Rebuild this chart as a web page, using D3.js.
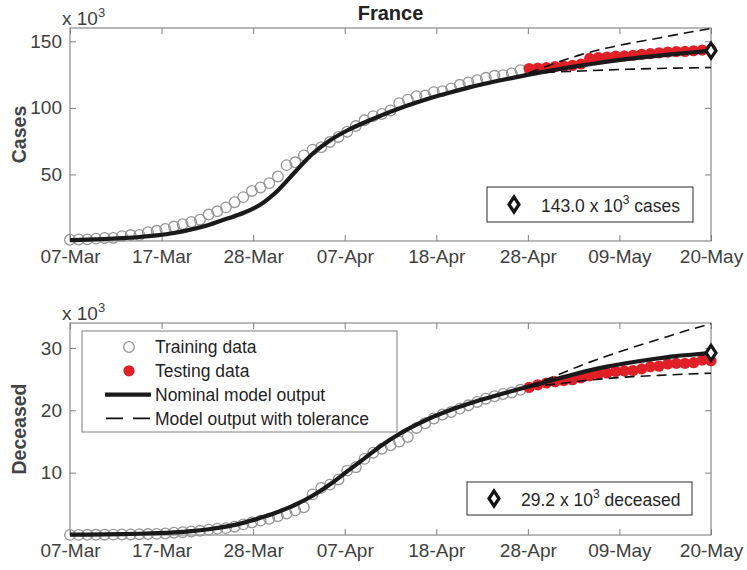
<!DOCTYPE html>
<html>
<head>
<meta charset="utf-8">
<script src="https://cdn.jsdelivr.net/npm/d3@7"></script>
<style>
  body { margin: 0; background: #fff; }
  svg { display: block; font-family: 'Liberation Sans', Arial, sans-serif; }
</style>
</head>
<body>
<div id="chart"></div>
<script>
// values are in thousands (x 10^3)
var tickLabels = ['07-Mar', '17-Mar', '28-Mar', '07-Apr', '18-Apr', '28-Apr', '09-May', '20-May'];
var caseTicks = [50, 100, 150];
var deathTicks = [10, 20, 30];

var casesTrain = [0.95, 1.13, 1.21, 1.78, 2.28, 2.28, 3.66, 4.47, 4.50, 6.63, 7.65, 9.04, 10.87, 12.61, 14.28, 16.02,
  19.86, 22.30, 25.23, 29.16, 32.96, 37.58, 40.17, 43.5, 48.5, 56.99, 59.11, 64.34, 68.61, 70.48, 74.39, 78.17,
  82.05, 86.33, 90.68, 93.79, 95.40, 98.08, 103.57, 106.21, 108.85, 109.25, 111.82, 112.61, 114.66, 117.32, 119.15,
  120.80, 122.58, 124.11, 124.58, 125.93, 128.34];
var casesTest = [129.58, 129.86, 130.19, 130.98, 131.29, 131.86, 132.97, 137.15, 137.78, 138.16, 138.85, 139.06,
  139.52, 140.23, 140.73, 141.36, 141.92, 142.29, 142.41, 142.90, 143.43, 143.85];
var casesModel = [0.6, 1.0, 1.5, 2.2, 3.0, 4.2, 6.0, 8.6, 12.0, 16.5, 21.0, 27.5, 38.0, 52.0, 65.5, 75.5, 83.0, 89.0,
  94.5, 99.5, 104.0, 108.2, 111.8, 115.2, 118.3, 121.1, 123.7, 126.3, 128.6, 130.8, 132.8, 134.7, 136.4, 137.9,
  139.3, 140.6, 141.8, 143.0];
var casesUpper = [126.3, 133.5, 140.0, 145.0, 149.0, 152.5, 156.2, 159.6];
var casesLower = [126.0, 126.9, 127.7, 128.5, 129.1, 129.6, 130.0, 130.3];

var deathsTrain = [0.02, 0.02, 0.03, 0.03, 0.05, 0.06, 0.08, 0.09, 0.13, 0.15, 0.18, 0.24, 0.37, 0.45, 0.56, 0.67,
  0.86, 1.02, 1.10, 1.33, 1.70, 2.00, 2.31, 2.61, 3.02, 3.45, 3.95, 4.45, 6.51, 7.56, 8.08, 8.91, 10.33, 10.87, 12.21,
  13.20, 13.83, 14.39, 14.97, 15.73, 17.17, 17.92, 18.68, 19.32, 19.72, 20.27, 20.80, 21.34, 21.86, 22.25, 22.61,
  22.86, 23.29];
var deathsTest = [23.66, 24.09, 24.38, 24.59, 24.76, 24.90, 25.20, 25.53, 25.81, 25.99, 26.23, 26.31, 26.38, 26.64,
  26.99, 27.07, 27.43, 27.53, 27.53, 27.63, 28.05, 27.95];
var deathsModel = [0.05, 0.07, 0.10, 0.14, 0.20, 0.29, 0.42, 0.62, 0.92, 1.35, 1.95, 2.75, 3.7, 4.85, 6.3, 8.1, 10.2,
  12.3, 14.4, 16.2, 17.7, 19.0, 20.1, 21.05, 21.9, 22.7, 23.45, 24.2, 24.95, 25.7, 26.4, 27.0, 27.5, 27.95, 28.35,
  28.7, 28.95, 29.2];
var deathsUpper = [23.8, 25.5, 27.2, 28.7, 30.1, 31.4, 32.7, 33.9];
var deathsLower = [23.8, 24.2, 24.7, 25.1, 25.4, 25.6, 25.8, 25.95];

var modelDays = d3.range(0, 75, 2);
var toleranceDays = [53, 56, 59, 62, 65, 68, 71, 74];

var width = 747, height = 570;
var left = 70, right = 711;
var axis_color = '#7f7f7f', text_color = '#404040';
var red = '#e01f26';

var start = new Date(2020, 2, 7), split = new Date(2020, 3, 29), end = new Date(2020, 4, 20);
var trainDates = d3.timeDay.range(start, split);
var testDates = d3.timeDay.range(split, d3.timeDay.offset(end, 1));
function dayToDate(d) { return d3.timeDay.offset(start, d); }
var tickDates = tickLabels.map(function(l, i) {
  return new Date(+start + i * (end - start) / (tickLabels.length - 1));
});

var x = d3.scaleTime().domain([start, end]).range([left, right]);

var svg = d3.select('#chart').append('svg')
    .attr('width', width)
    .attr('height', height);

svg.append('text')
    .attr('x', (left + right) / 2)
    .attr('y', 20)
    .attr('text-anchor', 'middle')
    .attr('font-size', 20)
    .attr('font-weight', 'bold')
    .attr('fill', '#222')
    .text('France');

function diamond(sel) {
  sel.attr('d', 'M0,-7.5L5,0L0,7.5L-5,0Z')
    .attr('fill', '#fff')
    .attr('stroke', '#151515')
    .attr('stroke-width', 3.2);
}

function styleAxis(g) {
  g.select('.domain').remove();
  g.selectAll('line').attr('stroke', axis_color);
  g.selectAll('text').attr('fill', text_color).attr('font-size', 19)
    .attr('font-family', "'Liberation Sans', Arial, sans-serif");
}

function drawPanel(p) {
  var bottom = p.top + p.h;
  var y = d3.scaleLinear().domain([0, p.yMax]).range([bottom, p.top]);
  var g = svg.append('g');

  g.append('rect')
      .attr('x', left).attr('y', p.top)
      .attr('width', right - left).attr('height', p.h)
      .attr('fill', '#fff');

  g.append('g')
      .attr('transform', 'translate(0,' + bottom + ')')
      .call(d3.axisBottom(x).tickValues(tickDates).tickSizeInner(-6).tickSizeOuter(0).tickPadding(9)
        .tickFormat(function(d, i) { return tickLabels[i]; }))
      .call(styleAxis);
  g.append('g')
      .attr('transform', 'translate(0,' + p.top + ')')
      .call(d3.axisTop(x).tickValues(tickDates).tickSizeInner(-6).tickSizeOuter(0).tickFormat(''))
      .call(styleAxis);
  g.append('g')
      .attr('transform', 'translate(' + left + ',0)')
      .call(d3.axisLeft(y).tickValues(p.ticks).tickSizeInner(-6).tickSizeOuter(0).tickPadding(8))
      .call(styleAxis);
  g.append('g')
      .attr('transform', 'translate(' + right + ',0)')
      .call(d3.axisRight(y).tickValues(p.ticks).tickSizeInner(-6).tickSizeOuter(0).tickFormat(''))
      .call(styleAxis);

  g.append('rect')
      .attr('x', left).attr('y', p.top)
      .attr('width', right - left).attr('height', p.h)
      .attr('fill', 'none')
      .attr('stroke', axis_color)
      .attr('stroke-width', 1.1);

  // x 10^3 multiplier
  var mult = g.append('text')
      .attr('x', left - 8)
      .attr('y', p.top - 3)
      .attr('font-size', 19)
      .attr('fill', text_color)
      .text('x 10');
  mult.append('tspan').attr('dy', -8).attr('font-size', 13).text('3');

  // y label
  g.append('text')
      .attr('transform', 'translate(26,' + (p.top + p.h / 2) + ') rotate(-90)')
      .attr('text-anchor', 'middle')
      .attr('font-size', 19.5)
      .attr('font-weight', 'bold')
      .attr('fill', '#444')
      .text(p.label);

  // training data
  g.append('g').selectAll('circle')
    .data(p.train)
    .enter().append('circle')
      .attr('cx', function(d, i) { return x(trainDates[i]); })
      .attr('cy', function(d) { return y(d); })
      .attr('r', 5.3)
      .attr('fill', 'none')
      .attr('stroke', '#959595')
      .attr('stroke-width', 1.3);

  // testing data
  g.append('g').selectAll('circle')
    .data(p.test)
    .enter().append('circle')
      .attr('cx', function(d, i) { return x(testDates[i]); })
      .attr('cy', function(d) { return y(d); })
      .attr('r', 5.6)
      .attr('fill', red);

  var line = d3.line()
      .x(function(d) { return x(dayToDate(d[0])); })
      .y(function(d) { return y(d[1]); })
      .curve(d3.curveMonotoneX);

  g.append('path')
      .datum(modelDays.map(function(d, i) { return [d, p.model[i]]; }))
      .attr('d', line)
      .attr('fill', 'none')
      .attr('stroke', '#1a1a1a')
      .attr('stroke-width', 4.2);

  [p.upper, p.lower].forEach(function(arr) {
    g.append('path')
        .datum(toleranceDays.map(function(d, i) { return [d, arr[i]]; }))
        .attr('d', line)
        .attr('fill', 'none')
        .attr('stroke', '#111')
        .attr('stroke-width', 1.6)
        .attr('stroke-dasharray', '10,6');
  });

  // final value marker
  g.append('path')
      .attr('transform', 'translate(' + x(end) + ',' + y(p.model[p.model.length - 1]) + ')')
      .call(diamond);

  // annotation box
  var b = p.box;
  g.append('rect')
      .attr('x', b.x).attr('y', b.y)
      .attr('width', b.w).attr('height', b.h)
      .attr('fill', '#fff')
      .attr('stroke', '#2b2b2b')
      .attr('stroke-width', 1);
  g.append('path')
      .attr('transform', 'translate(' + (b.x + 27) + ',' + (b.y + b.h / 2) + ')')
      .call(diamond);
  var t = g.append('text')
      .attr('x', b.x + 54)
      .attr('y', b.y + b.h / 2 + 7)
      .attr('font-size', 17.5)
      .attr('fill', '#262626')
      .text(d3.format('.1f')(p.model[p.model.length - 1]) + ' x 10');
  t.append('tspan').attr('dy', -8).attr('font-size', 12).text('3');
  t.append('tspan').attr('dy', 8).text(' ' + p.unit);

  return y;
}

drawPanel({top: 28, h: 213, yMax: 160, ticks: caseTicks, label: 'Cases', unit: 'cases',
  train: casesTrain, test: casesTest, model: casesModel, upper: casesUpper, lower: casesLower,
  box: {x: 487, y: 187, w: 206, h: 35}});
drawPanel({top: 323, h: 212, yMax: 34, ticks: deathTicks, label: 'Deceased', unit: 'deceased',
  train: deathsTrain, test: deathsTest, model: deathsModel, upper: deathsUpper, lower: deathsLower,
  box: {x: 467, y: 482, w: 225, h: 33}});

// legend
var legend = svg.append('g');
legend.append('rect')
    .attr('x', 82).attr('y', 331)
    .attr('width', 315).attr('height', 101)
    .attr('fill', '#fff')
    .attr('stroke', axis_color)
    .attr('stroke-width', 1);

var items = [
  {name: 'Training data', type: 'open'},
  {name: 'Testing data', type: 'filled'},
  {name: 'Nominal model output', type: 'solid'},
  {name: 'Model output with tolerance', type: 'dashed'}
];

var rows = legend.selectAll('.row')
  .data(items)
  .enter().append('g')
    .attr('class', 'row')
    .attr('transform', function(d, i) { return 'translate(0,' + (347 + i * 23.8) + ')'; });

rows.filter(function(d) { return d.type === 'open'; }).append('circle')
    .attr('cx', 129).attr('r', 5.3)
    .attr('fill', 'none').attr('stroke', '#959595').attr('stroke-width', 1.3);
rows.filter(function(d) { return d.type === 'filled'; }).append('circle')
    .attr('cx', 129).attr('r', 5.6)
    .attr('fill', red);
rows.filter(function(d) { return d.type === 'solid'; }).append('line')
    .attr('x1', 105).attr('x2', 151)
    .attr('stroke', '#1a1a1a').attr('stroke-width', 4.2);
rows.filter(function(d) { return d.type === 'dashed'; }).append('line')
    .attr('x1', 106).attr('x2', 150)
    .attr('stroke', '#111').attr('stroke-width', 1.6)
    .attr('stroke-dasharray', '17,10');

rows.append('text')
    .attr('x', 155)
    .attr('dy', '0.36em')
    .attr('font-size', 17.5)
    .attr('fill', '#1f1f1f')
    .text(function(d) { return d.name; });
</script>
</body>
</html>
